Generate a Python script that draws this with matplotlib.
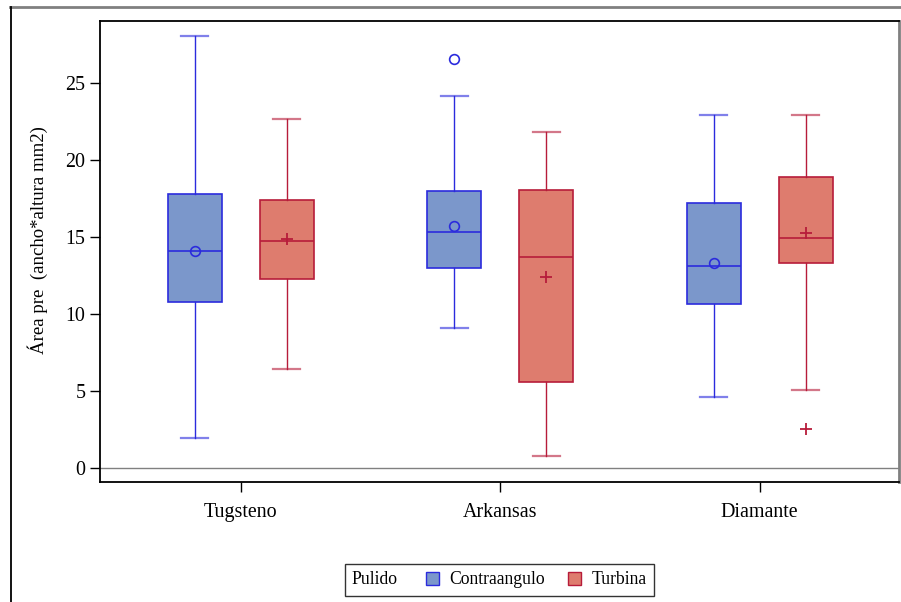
import matplotlib
matplotlib.use("Agg")
import matplotlib.pyplot as plt
from matplotlib.patches import Patch
from matplotlib.lines import Line2D
from matplotlib.offsetbox import HPacker

plt.rcParams['font.family'] = ['Liberation Serif', 'DejaVu Serif']

# Datos
categorias = ["Tugsteno", "Arkansas", "Diamante"]
series = ["Contraangulo", "Turbina"]

# cuartiles por serie: [Tugsteno, Arkansas, Diamante]
contra_whislo = [1.95, 9.09, 4.61]
contra_q1 = [10.78, 12.99, 10.65]
contra_med = [14.09, 15.32, 13.12]
contra_q3 = [17.79, 17.99, 17.21]
contra_whishi = [28.05, 24.16, 22.92]
contra_mean = [14.1, 15.7, 13.3]
contra_fliers = [[], [26.56], []]

turb_whislo = [6.43, 0.78, 5.06]
turb_q1 = [12.27, 5.58, 13.31]
turb_med = [14.74, 13.70, 14.94]
turb_q3 = [17.40, 18.05, 18.90]
turb_whishi = [22.66, 21.82, 22.92]
turb_mean = [14.87, 12.40, 15.26]
turb_fliers = [[], [], [2.53]]

azul_fill = "#7B97CB"
azul_line = "#2B2BDD"
rojo_fill = "#DE7C6E"
rojo_line = "#B71C3A"


def make_stats(wl, q1, med, q3, wh, mean, fl):
    stats = []
    for i in range(len(wl)):
        stats.append(dict(whislo=wl[i], q1=q1[i], med=med[i], q3=q3[i],
                          whishi=wh[i], mean=mean[i], fliers=fl[i]))
    return stats


fig = plt.figure(figsize=(9.01, 6.02), dpi=100)
ax = fig.add_axes([100 / 901, 1 - 482 / 602, 799 / 901, 461 / 602])

offset = 0.177
width = 0.208
pos = list(range(len(categorias)))

configs = [
    (make_stats(contra_whislo, contra_q1, contra_med, contra_q3, contra_whishi, contra_mean, contra_fliers),
     -offset, azul_fill, azul_line, 'o'),
    (make_stats(turb_whislo, turb_q1, turb_med, turb_q3, turb_whishi, turb_mean, turb_fliers),
     offset, rojo_fill, rojo_line, '+'),
]

for stats, off, fill, line, mk in configs:
    if mk == 'o':
        mprops = dict(marker='o', markerfacecolor='none', markeredgecolor=line, markersize=7, markeredgewidth=1.2)
    else:
        mprops = dict(marker='+', markeredgecolor=line, markersize=9, markeredgewidth=1.3)
    ax.bxp(stats, positions=[p + off for p in pos], widths=width,
           patch_artist=True, showmeans=True, manage_ticks=False,
           boxprops=dict(facecolor=fill, edgecolor=line, linewidth=1.2),
           medianprops=dict(color=line, linewidth=1.2),
           whiskerprops=dict(color=line, linewidth=1.0),
           capprops=dict(color=line, linewidth=1.6, alpha=0.6),
           capwidths=width * 0.5,
           meanprops=mprops, flierprops=mprops)

ax.axhline(0, color="#808080", linewidth=1.0, zorder=0)

ax.set_xlim(-0.543, 2.537)
ax.set_ylim(-0.91, 29.03)
ax.set_xticks(pos)
ax.set_xticklabels(categorias, fontsize=14.4)
ax.set_yticks([0, 5, 10, 15, 20, 25])
ax.tick_params(axis='both', labelsize=14.4, length=7, width=1, color='black')
ax.tick_params(axis='x', pad=8)
ax.set_ylabel("Área pre  (ancho*altura mm2)", fontsize=13.5)
ax.yaxis.set_label_coords(-0.065, 0.525)

for side in ['left', 'bottom', 'top']:
    ax.spines[side].set_color('black')
    ax.spines[side].set_linewidth(1.3)
ax.spines['right'].set_color('#808080')
ax.spines['right'].set_linewidth(2)

# Leyenda: título "Pulido" a la izquierda de las entradas
handles = [Patch(facecolor=azul_fill, edgecolor=azul_line),
           Patch(facecolor=rojo_fill, edgecolor=rojo_line)]
leg = fig.legend(handles, series, ncol=2, title="Pulido", title_fontsize=12.7,
                 loc='center', bbox_to_anchor=(499.5 / 901, 1 - 580 / 602),
                 fontsize=12.7, frameon=True, fancybox=False, edgecolor='black',
                 handlelength=0.74, handleheight=0.74, columnspacing=1.3, handletextpad=0.62,
                 borderpad=0.4)
leg.get_frame().set_linewidth(1.0)
vbox = leg._legend_box
title_box, handle_box = vbox.get_children()
hbox = HPacker(pad=vbox.pad, sep=20, align="baseline", children=[title_box, handle_box])
hbox.set_figure(fig)
hbox.set_offset(leg._findoffset)
leg._legend_box = hbox

# Marco exterior
fig.add_artist(Line2D([10 / 901, 1], [1 - 7 / 602, 1 - 7 / 602], color='#808080', linewidth=2, transform=fig.transFigure))
fig.add_artist(Line2D([10.5 / 901, 10.5 / 901], [0, 1 - 7 / 602], color='black', linewidth=1.3, transform=fig.transFigure))

fig.savefig("out.png", dpi=100)
